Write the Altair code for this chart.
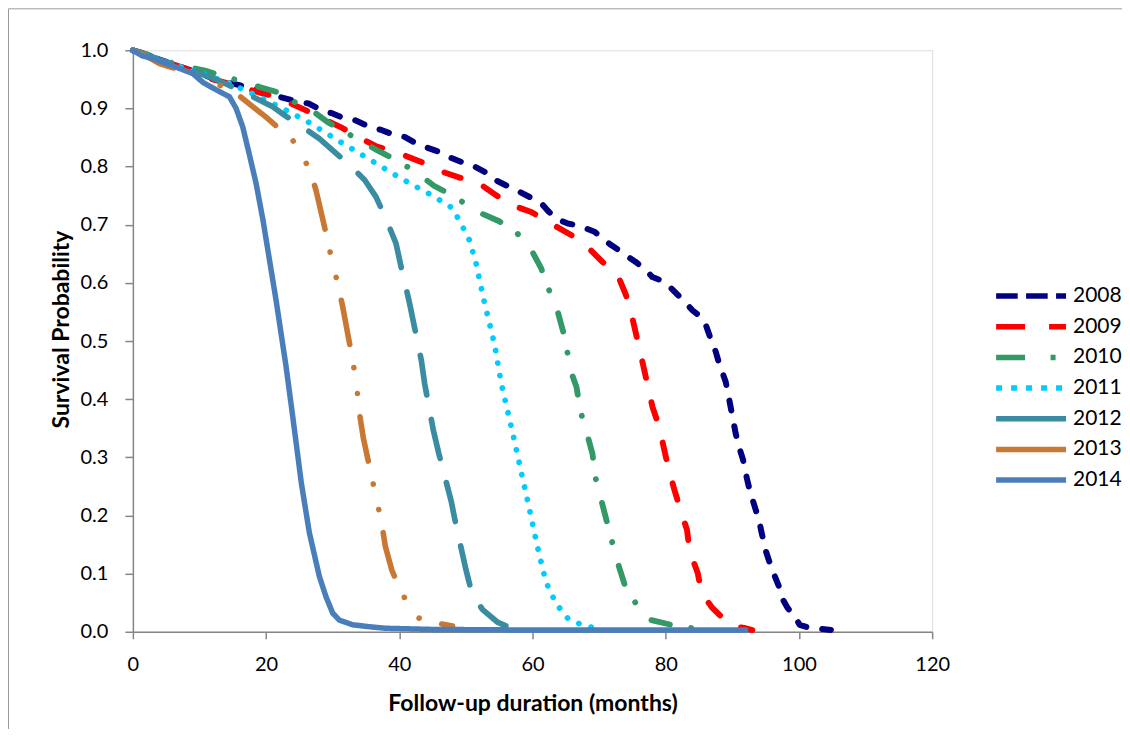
import altair as alt
import pandas as pd

# ---- data ----
years = ["2008", "2009", "2010", "2011", "2012", "2013", "2014"]

m_2008 = [0, 2, 4, 6, 8, 10, 12, 14, 16, 19.3, 21, 24, 26.5, 27.8, 29.8, 31.3, 33.3, 35.8, 37.3, 39.3,
          40.8, 42.5, 43.8, 46.3, 47.3, 49.3, 51, 52.8, 53.5, 56.5, 58, 60, 61.3, 62.3, 63.5, 65.3,
          66.8, 69.3, 70.3, 71.8, 73, 74.3, 75.5, 77, 78, 79.8, 80.8, 83.3, 84, 85.5, 86.1, 86.8,
          87.5, 88, 89, 89.5, 90, 90.5, 91, 91.6, 92, 92.4, 92.9, 93.5, 94, 94.4, 95, 95.8, 96.5,
          97.1, 97.6, 98.3, 99.5, 100.1, 101.8, 103.3, 104.8]
s_2008 = [1.0, 0.993, 0.984, 0.976, 0.968, 0.960, 0.952, 0.945, 0.940, 0.931, 0.923, 0.914, 0.908, 0.900,
          0.892, 0.885, 0.880, 0.867, 0.863, 0.854, 0.851, 0.840, 0.834, 0.824, 0.817, 0.808, 0.802,
          0.791, 0.782, 0.765, 0.757, 0.745, 0.737, 0.724, 0.711, 0.702, 0.699, 0.688, 0.679, 0.665,
          0.656, 0.645, 0.636, 0.622, 0.610, 0.602, 0.591, 0.562, 0.553, 0.539, 0.525, 0.502, 0.482,
          0.462, 0.430, 0.401, 0.371, 0.341, 0.318, 0.296, 0.273, 0.253, 0.232, 0.210, 0.192, 0.170,
          0.140, 0.112, 0.092, 0.075, 0.055, 0.041, 0.024, 0.012, 0.006, 0.005, 0.003]

m_2009 = [0, 2, 4, 6, 8, 10, 12, 14, 17, 19.5, 21.5, 24, 26.5, 29, 31.5, 33.8, 36.5, 39.5, 43.3, 46,
          48.8, 52, 54.5, 56.8, 59.8, 62.3, 66.3, 68.5, 70.5, 72.8, 74, 75, 75.8, 76.5, 77.3, 78, 79,
          80.4, 81.3, 82.2, 83.2, 83.6, 84.8, 85.4, 87, 88.8, 90, 92, 93]
s_2009 = [1.0, 0.993, 0.984, 0.976, 0.968, 0.958, 0.950, 0.944, 0.934, 0.926, 0.920, 0.907, 0.894, 0.880,
          0.866, 0.851, 0.835, 0.825, 0.808, 0.793, 0.782, 0.771, 0.751, 0.734, 0.722, 0.705, 0.679,
          0.659, 0.636, 0.613, 0.580, 0.539, 0.499, 0.464, 0.423, 0.387, 0.353, 0.281, 0.244, 0.210,
          0.175, 0.138, 0.101, 0.066, 0.041, 0.021, 0.010, 0.006, 0.003]

m_2010 = [0, 2, 4, 6, 8, 10.8, 14, 16.5, 19, 22.3, 24.3, 26.8, 29.3, 31.8, 34, 37, 39.8, 42.8, 45.2,
          48, 51.8, 55, 57.5, 60, 61.3, 62.5, 63.8, 64.6, 65.3, 65.6, 66.6, 67.2, 68.2, 69, 69.5, 70.4,
          72, 73, 74, 75.5, 77.5, 80.8, 84]
s_2010 = [1.0, 0.993, 0.985, 0.978, 0.972, 0.965, 0.954, 0.946, 0.937, 0.926, 0.911, 0.897, 0.876, 0.860,
          0.845, 0.826, 0.810, 0.788, 0.767, 0.750, 0.722, 0.706, 0.688, 0.653, 0.625, 0.587, 0.550,
          0.516, 0.477, 0.453, 0.421, 0.379, 0.340, 0.306, 0.263, 0.223, 0.152, 0.111, 0.075, 0.049,
          0.021, 0.012, 0.006]

m_2011 = [0, 2, 4, 6, 8, 10, 11.3, 14.5, 18, 21.8, 26, 30.5, 35, 40.5, 45, 47.8, 49, 50.5, 51.5, 52.7,
          54.3, 55.3, 57, 58.2, 59.5, 60.7, 62, 63.5, 65.3, 67, 68.8, 69.5]
s_2011 = [1.0, 0.993, 0.984, 0.976, 0.968, 0.961, 0.957, 0.943, 0.925, 0.904, 0.879, 0.847, 0.816, 0.778,
          0.750, 0.730, 0.708, 0.674, 0.635, 0.570, 0.494, 0.427, 0.343, 0.280, 0.213, 0.148, 0.086,
          0.049, 0.023, 0.014, 0.008, 0.005]

m_2012 = [0, 2, 4, 6, 8, 10, 12, 14, 15.5, 18, 21, 22.8, 25, 28, 30, 32.5, 34.8, 36.5, 38, 39.5, 40.3,
          41.5, 43.3, 43.8, 45.1, 45.9, 47.8, 48.5, 50, 50.9, 52.5, 54.8, 56]
s_2012 = [1.0, 0.993, 0.984, 0.976, 0.968, 0.960, 0.952, 0.942, 0.934, 0.920, 0.903, 0.888, 0.872, 0.848,
          0.828, 0.803, 0.777, 0.748, 0.710, 0.668, 0.626, 0.567, 0.467, 0.427, 0.347, 0.308, 0.224,
          0.184, 0.107, 0.066, 0.038, 0.016, 0.010]

m_2013 = [0, 2, 4, 6, 8, 11, 13, 15.5, 18, 20, 22, 24, 25.5, 26.9, 27.5, 29, 29.8, 30.7, 31.5, 33, 33.6,
          34, 34.6, 37.3, 37.9, 38.9, 40.3, 41.5, 42.5, 44, 48]
s_2013 = [1.0, 0.990, 0.977, 0.970, 0.964, 0.948, 0.940, 0.926, 0.903, 0.885, 0.865, 0.845, 0.820, 0.782,
          0.759, 0.685, 0.643, 0.601, 0.559, 0.467, 0.423, 0.377, 0.333, 0.190, 0.147, 0.105, 0.069,
          0.043, 0.026, 0.018, 0.010]

m_2014 = [0, 1.5, 3, 5, 6.5, 9, 10.5, 12.5, 14.5, 15.5, 16.5, 17.5, 18.5, 19.5, 20.5, 21.5, 23, 24, 25.3,
          26.5, 28, 29, 30, 31, 33, 36, 38, 45, 60, 92]
s_2014 = [1.0, 0.990, 0.986, 0.977, 0.971, 0.960, 0.945, 0.932, 0.920, 0.900, 0.868, 0.820, 0.771, 0.710,
          0.640, 0.570, 0.456, 0.370, 0.255, 0.170, 0.095, 0.060, 0.032, 0.020, 0.012, 0.008, 0.006,
          0.004, 0.003, 0.003]

x_ticks = [0, 20, 40, 60, 80, 100, 120]
y_ticks = [0.0, 0.1, 0.2, 0.3, 0.4, 0.5, 0.6, 0.7, 0.8, 0.9, 1.0]

series = {
    "2008": (m_2008, s_2008), "2009": (m_2009, s_2009), "2010": (m_2010, s_2010),
    "2011": (m_2011, s_2011), "2012": (m_2012, s_2012), "2013": (m_2013, s_2013),
    "2014": (m_2014, s_2014),
}
rows = []
for yr in years:
    ms, ss = series[yr]
    for i, (m, s) in enumerate(zip(ms, ss)):
        rows.append({"year": yr, "pattern": "p" + yr, "month": m, "surv": s, "i": i})
df = pd.DataFrame(rows)

# ---- styles ----
colors = ["#000080", "#FF0000", "#339966", "#00CCFF", "#3A8CA2", "#C87832", "#4A7EBB"]
patterns = ["p" + y for y in years]
dashes = [[10, 16], [17, 25], [19, 21.5, 0.1, 24.5], [0.1, 12.6], [40, 25],
          [45, 23.5, 0.1, 26, 0.1, 23.5], [1, 0]]
widths = [6, 5.5, 5.5, 6, 5.5, 5.5, 5.5]

FONT = "Lato"
W, H = 800, 582
PAD = {"left": 125, "top": 42, "right": 190, "bottom": 97}
AX = "#868686"

legend_dash = ("datum.value == '2008' ? [21.6,8.4] : datum.value == '2009' ? [29,24] : "
               "datum.value == '2010' ? [29,25.5,5,10.5] : datum.value == '2011' ? [6,9] : [1,0]")

lines = alt.Chart(df).mark_line(strokeCap="round", strokeJoin="round").encode(
    x=alt.X("month:Q", scale=alt.Scale(domain=[0, 120], nice=False),
            axis=alt.Axis(values=x_ticks, title="Follow-up duration (months)", grid=False,
                          labelFontSize=20, labelFont=FONT, labelColor="black", labelPadding=16,
                          tickSize=7, tickColor=AX, domainColor=AX, domainWidth=1.5,
                          tickWidth=1.5, labelFlush=False,
                          titleFont=FONT, titleFontSize=23, titleFontWeight="bold", titleColor="black",
                          titleY=79, titleBaseline="alphabetic")),
    y=alt.Y("surv:Q", scale=alt.Scale(domain=[0, 1], nice=False),
            axis=alt.Axis(values=y_ticks, format=".1f", title="Survival Probability", grid=False,
                          labelFontSize=20, labelFont=FONT, labelColor="black", labelPadding=17,
                          tickSize=8, tickColor=AX, domainColor=AX, domainWidth=1.5,
                          tickWidth=1.5, labelFlush=False,
                          titleFont=FONT, titleFontSize=23, titleFontWeight="bold", titleColor="black",
                          titleX=-64, titleY=279, titleAngle=-90, titleAlign="center",
                          titleBaseline="alphabetic")),
    color=alt.Color("year:N", scale=alt.Scale(domain=years, range=colors),
                    legend=alt.Legend(orient="none", legendX=861, legendY=232, title=None,
                                      symbolType="stroke", symbolSize=4900, symbolStrokeWidth=5.5,
                                      symbolDash={"expr": legend_dash},
                                      labelFontSize=21, labelFont=FONT, labelColor="black",
                                      labelOffset=4, clipHeight=28, rowPadding=2.7, padding=0)),
    strokeDash=alt.StrokeDash("pattern:N", scale=alt.Scale(domain=patterns, range=dashes), legend=None),
    strokeWidth=alt.StrokeWidth("pattern:N", scale=alt.Scale(domain=patterns, range=widths), legend=None),
    order=alt.Order("i:Q"),
)

frame_df = pd.DataFrame({"k": [0]})
frame_top = alt.Chart(frame_df).mark_rule(stroke="#9a9a9a", strokeWidth=1).encode(
    x=alt.value(-124.5), x2=alt.value(W + PAD["right"] + 20), y=alt.value(-41.5))
frame_left = alt.Chart(frame_df).mark_rule(stroke="#9a9a9a", strokeWidth=1).encode(
    x=alt.value(-124.5), y=alt.value(-41.5), y2=alt.value(H + PAD["bottom"] + 20))

chart = alt.layer(frame_top, frame_left, lines).properties(
    width=W, height=H,
    autosize=alt.AutoSizeParams(type="none"),
    padding=PAD,
).configure_view(stroke=None).configure(background="white")

chart.save("out.html", embed_options={"renderer": "svg", "actions": False})
